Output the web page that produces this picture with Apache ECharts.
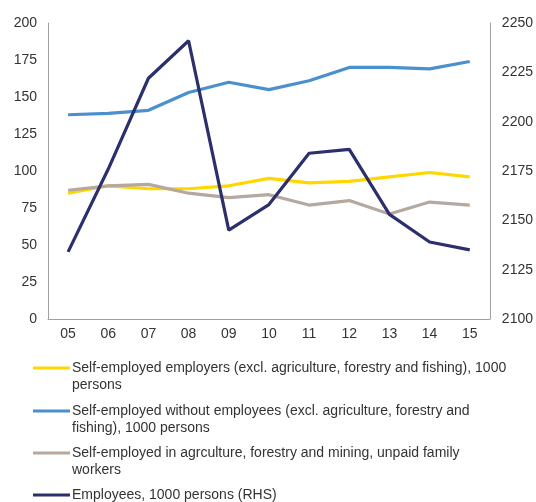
<!DOCTYPE html>
<html><head><meta charset="utf-8">
<script src="https://cdn.jsdelivr.net/npm/echarts@6/dist/echarts.min.js"></script>
<style>html,body{margin:0;padding:0;background:#fff}#c{width:536px;height:502px}</style>
</head><body><div id="c"></div>
<script>
const categories = ['05','06','07','08','09','10','11','12','13','14','15'];
const employers = [85, 90, 88, 88, 90, 95, 92, 93, 96, 99, 96];
const withoutEmployees = [138, 139, 141, 153, 160, 155, 161, 170, 170, 169, 174];
const agriculture = [87, 90, 91, 85, 82, 84, 77, 80, 71, 79, 77];
const employeesRHS = [2134, 2176, 2222, 2241, 2145, 2158, 2184, 2186, 2153, 2139, 2135];
const seriesNames = [
  'Self-employed employers (excl. agriculture, forestry and fishing), 1000\npersons',
  'Self-employed without employees (excl. agriculture, forestry and\nfishing), 1000 persons',
  'Self-employed in agrculture, forestry and mining, unpaid family\nworkers',
  'Employees, 1000 persons (RHS)'
];
const colors = ['#FFD700', '#4A90CF', '#B5A89E', '#2B2F6B'];
const font = 'Liberation Sans, Arial, sans-serif';

const chart = echarts.init(document.getElementById('c'), null, {renderer: 'canvas'});
const legendTops = [368, 411, 453, 495];
const graphics = [];
seriesNames.forEach((n, i) => {
  graphics.push({type: 'line', shape: {x1: 33, y1: legendTops[i], x2: 70, y2: legendTops[i]}, style: {stroke: colors[i], lineWidth: 3}});
  graphics.push({type: 'text', x: 72, y: legendTops[i] - 8.5, style: {text: n, fill: '#333', font: '14px ' + font, lineHeight: 17, textVerticalAlign: 'top', verticalAlign: 'top'}});
});
const mk = (name, data, i, yIdx) => ({
  name, type: 'line', data, yAxisIndex: yIdx, symbol: 'none', smooth: false,
  lineStyle: {color: colors[i], width: 3.2}, itemStyle: {color: colors[i]}, z: 2 + i
});
chart.setOption({
  animation: false,
  textStyle: {fontFamily: font},
  grid: {left: 48, right: 46, top: 23, bottom: 183},
  xAxis: {
    type: 'category', data: categories, boundaryGap: true,
    axisLine: {lineStyle: {color: '#a0a0a0', width: 1}}, axisTick: {show: false},
    axisLabel: {color: '#333', fontSize: 14, margin: 8, fontFamily: font}
  },
  yAxis: [
    {type: 'value', min: 0, max: 200, interval: 25, splitLine: {show: false},
     axisLine: {show: true, lineStyle: {color: '#a0a0a0'}}, axisTick: {show: false},
     axisLabel: {color: '#333', fontSize: 14, margin: 11, fontFamily: font}},
    {type: 'value', min: 2100, max: 2250, interval: 25, position: 'right', splitLine: {show: false},
     axisLine: {show: true, lineStyle: {color: '#a0a0a0'}}, axisTick: {show: false},
     axisLabel: {color: '#333', fontSize: 14, margin: 12, fontFamily: font, formatter: v => String(v)}}
  ],
  series: [
    mk(seriesNames[0], employers, 0, 0),
    mk(seriesNames[1], withoutEmployees, 1, 0),
    mk(seriesNames[2], agriculture, 2, 0),
    mk(seriesNames[3], employeesRHS, 3, 1)
  ],
  graphic: graphics
});
</script></body></html>
